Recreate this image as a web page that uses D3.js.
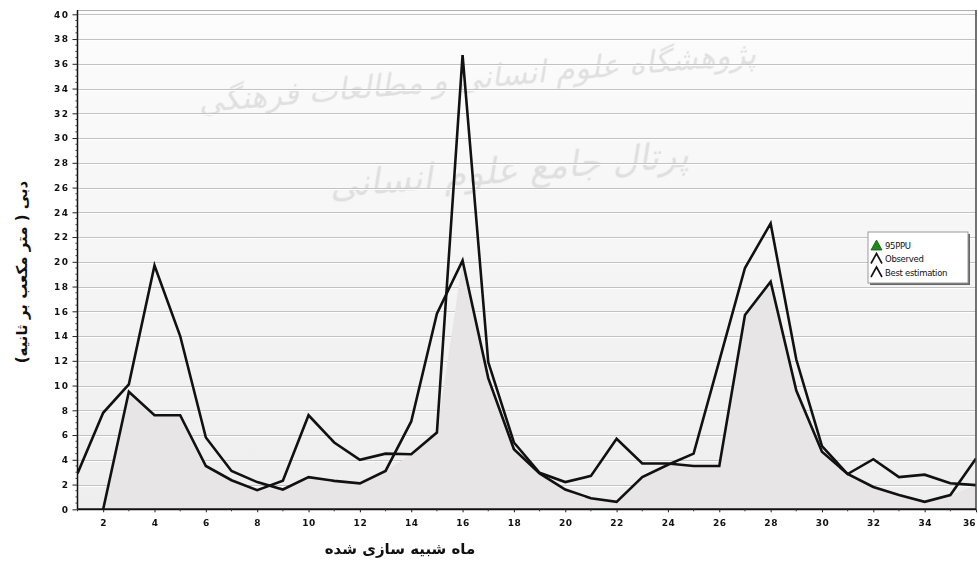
<!DOCTYPE html>
<html>
<head>
<meta charset="utf-8">
<script src="https://cdn.jsdelivr.net/npm/d3@7"></script>
<style>
body { margin: 0; background: #fff; }
svg { display: block; }
</style>
</head>
<body>
<svg id="chart"></svg>
<script>
// chart data
let months = d3.range(1, 37);
let observed = [null, 0, 9.5, 7.6, 7.6, 3.5, 2.35, 1.55, 2.3, 7.6, 5.4, 4.0, 4.5, 4.45, 6.2, 36.7, 11.9, 5.4, 2.95, 2.2, 2.7, 5.7, 3.7, 3.7, 3.5, 3.5, 15.7, 18.4, 9.6, 4.65, 2.85, 4.05, 2.6, 2.8, 2.1, 1.95];
let estimated = [2.9, 7.8, 10.1, 19.7, 14.0, 5.8, 3.1, 2.2, 1.6, 2.6, 2.3, 2.1, 3.1, 7.1, 15.8, 20.1, 10.6, 4.85, 2.9, 1.6, 0.9, 0.6, 2.6, 3.6, 4.5, 12.0, 19.5, 23.1, 12.1, 5.1, 2.85, 1.8, 1.15, 0.6, 1.15, 4.1];
let ppuBand = [0, 0, 9.5, 7.6, 7.6, 3.5, 2.35, 1.55, 1.6, 2.6, 2.3, 2.1, 3.1, 4.45, 6.2, 20.1, 10.6, 4.85, 2.9, 1.6, 0.9, 0.6, 2.6, 3.6, 3.5, 3.5, 15.7, 18.4, 9.6, 4.65, 2.85, 1.8, 1.15, 0.6, 1.15, 1.95];
let yTicks = d3.range(0, 41, 2);
let xTicks = d3.range(2, 37, 2);
let legendLabels = ["95PPU", "Observed", "Best estimation"];
let xTitle = "ماه  شبیه سازی شده";
let yTitle = "دبی ( متر مکعب بر ثانیه)";

let width = 978;
let height = 563;
let plotLeft = 77.5, plotRight = 976, plotTop = 10, plotBottom = 509.3;

let svg = d3.select("#chart").attr("width", width).attr("height", height);

let xScale = d3.scaleLinear().domain([1, 36]).range([plotLeft, plotRight]);
let yScale = d3.scaleLinear().domain([0, 40]).range([plotBottom, 14.3]);

let defs = svg.append("defs");
let grad = defs.append("linearGradient").attr("id", "bg")
    .attr("x1", 0).attr("y1", 0).attr("x2", 0).attr("y2", 1);
grad.append("stop").attr("offset", "0%").attr("stop-color", "#fcfcfc");
grad.append("stop").attr("offset", "100%").attr("stop-color", "#eeeeee");

defs.append("clipPath").attr("id", "plotclip")
    .append("rect")
    .attr("x", plotLeft).attr("y", plotTop)
    .attr("width", plotRight - plotLeft).attr("height", plotBottom - plotTop);

// plot background
svg.append("rect")
    .attr("x", plotLeft).attr("y", plotTop)
    .attr("width", plotRight - plotLeft).attr("height", plotBottom - plotTop)
    .attr("fill", "url(#bg)");

// watermark
let wm = svg.append("g").attr("fill", "#d4d4d4").attr("opacity", 0.7)
    .style("font-family", "DejaVu Sans").style("font-style", "italic");
wm.append("text").attr("x", 478).attr("y", 88).attr("text-anchor", "middle")
    .attr("transform", "rotate(-5 478 88)").style("font-size", "31px")
    .text("پژوهشگاه علوم انسانی و مطالعات فرهنگی");
wm.append("text").attr("x", 510).attr("y", 182).attr("text-anchor", "middle")
    .attr("transform", "rotate(-5 510 182)").style("font-size", "36px")
    .text("پرتال جامع علوم انسانی");

// grid lines
let grid = svg.append("g");
yTicks.filter(d => d > 0).forEach(d => {
    grid.append("line")
        .attr("x1", plotLeft).attr("x2", plotRight)
        .attr("y1", Math.round(yScale(d)) + 0.5).attr("y2", Math.round(yScale(d)) + 0.5)
        .attr("stroke", "#c2c2c2").attr("stroke-width", 1);
    grid.append("line")
        .attr("x1", plotLeft).attr("x2", plotRight)
        .attr("y1", Math.round(yScale(d)) + 1.5).attr("y2", Math.round(yScale(d)) + 1.5)
        .attr("stroke", "#ffffff").attr("stroke-width", 1);
});

let plot = svg.append("g").attr("clip-path", "url(#plotclip)");

// 95PPU band (grey area)
let area = d3.area()
    .x((d, i) => xScale(months[i]))
    .y0(yScale(0))
    .y1(d => yScale(d));
plot.append("path")
    .datum(ppuBand)
    .attr("d", area)
    .attr("fill", "#e8e5e6");

let line = d3.line()
    .defined(d => d != null)
    .x((d, i) => xScale(months[i]))
    .y(d => yScale(d));

plot.append("path")
    .datum(estimated)
    .attr("d", line)
    .attr("fill", "none")
    .attr("stroke", "#111")
    .attr("stroke-width", 2.6)
    .attr("stroke-linejoin", "miter");

plot.append("path")
    .datum(observed)
    .attr("d", line)
    .attr("fill", "none")
    .attr("stroke", "#111")
    .attr("stroke-width", 2.6)
    .attr("stroke-linejoin", "miter");

// frame
svg.append("line").attr("x1", plotLeft).attr("x2", plotRight).attr("y1", plotTop + 0.5).attr("y2", plotTop + 0.5)
    .attr("stroke", "#b0b0b0");
svg.append("line").attr("x1", plotRight).attr("x2", plotRight).attr("y1", plotTop).attr("y2", plotBottom)
    .attr("stroke", "#444").attr("stroke-width", 1.5);

// y axis
let yAxis = d3.axisLeft(yScale)
    .tickValues(yTicks)
    .tickSize(5)
    .tickPadding(3);
let gy = svg.append("g")
    .attr("transform", "translate(" + plotLeft + ",0)")
    .call(yAxis);
gy.select(".domain").attr("stroke", "#111").attr("stroke-width", 1.5)
    .attr("d", "M0," + plotTop + "V" + plotBottom);
gy.selectAll(".tick line").attr("stroke", "#222");
gy.selectAll(".tick text")
    .style("font-family", "DejaVu Sans").style("font-size", "9px").style("font-weight", "bold")
    .style("letter-spacing", "1.5px")
    .attr("fill", "#111");

// y minor ticks
svg.append("g").selectAll("line")
    .data(d3.range(0, 40.01, 0.5).filter(d => d % 2 != 0))
    .enter().append("line")
    .attr("x1", plotLeft - 2).attr("x2", plotLeft)
    .attr("y1", d => yScale(d)).attr("y2", d => yScale(d))
    .attr("stroke", "#333");

// x axis
let xAxis = d3.axisBottom(xScale)
    .tickValues(xTicks)
    .tickSize(3)
    .tickPadding(7);
let gx = svg.append("g")
    .attr("transform", "translate(0," + plotBottom + ")")
    .call(xAxis);
gx.select(".domain").attr("stroke", "#111").attr("stroke-width", 2)
    .attr("d", "M" + plotLeft + ",0H" + plotRight);
gx.selectAll(".tick line").attr("stroke", "#222");
gx.selectAll(".tick text")
    .style("font-family", "DejaVu Sans").style("font-size", "9px").style("font-weight", "bold")
    .style("letter-spacing", "0.5px")
    .attr("fill", "#111");
// last label sits at the right edge: keep it inside
gx.selectAll(".tick text").filter(d => d == 36)
    .attr("text-anchor", "end").attr("dx", "-1")
    .style("letter-spacing", "0px");

svg.append("g").selectAll("line")
    .data(months.filter(d => d % 2 == 1))
    .enter().append("line")
    .attr("x1", d => xScale(d)).attr("x2", d => xScale(d))
    .attr("y1", plotBottom).attr("y2", plotBottom + 2)
    .attr("stroke", "#333");

// axis titles
svg.append("text")
    .attr("x", 400).attr("y", 554)
    .attr("text-anchor", "middle")
    .style("font-family", "DejaVu Sans").style("font-size", "15px").style("font-weight", "bold")
    .attr("fill", "#111")
    .text(xTitle);

svg.append("text")
    .attr("transform", "translate(27,272) rotate(-90)")
    .attr("text-anchor", "middle")
    .style("font-family", "DejaVu Sans").style("font-size", "15px").style("font-weight", "bold")
    .attr("fill", "#111")
    .text(yTitle);

// legend
let lg = svg.append("g").attr("transform", "translate(868,232)");
lg.append("rect").attr("x", 2).attr("y", 2).attr("width", 100).attr("height", 51).attr("fill", "#666");
lg.append("rect").attr("x", 0).attr("y", 0).attr("width", 100).attr("height", 51)
    .attr("fill", "#fff").attr("stroke", "#999");
legendLabels.forEach((label, i) => {
    let cy = 13 + i * 13.5;
    if (i == 0) {
        lg.append("path")
            .attr("d", "M3," + (cy + 5) + "L8.5," + (cy - 5) + "L14," + (cy + 5) + "Z")
            .attr("fill", "#1e8a1e").attr("stroke", "#0b5a0b").attr("stroke-width", 0.8);
    } else {
        lg.append("path")
            .attr("d", "M3," + (cy + 5) + "L8.5," + (cy - 5) + "L14," + (cy + 5))
            .attr("fill", "none").attr("stroke", "#111").attr("stroke-width", 1.6);
    }
    lg.append("text")
        .attr("x", 17).attr("y", cy + 3.5)
        .style("font-family", "DejaVu Sans").style("font-size", "8.5px")
        .style("letter-spacing", "-0.3px")
        .attr("fill", "#111")
        .text(label);
});
</script>
</body>
</html>
